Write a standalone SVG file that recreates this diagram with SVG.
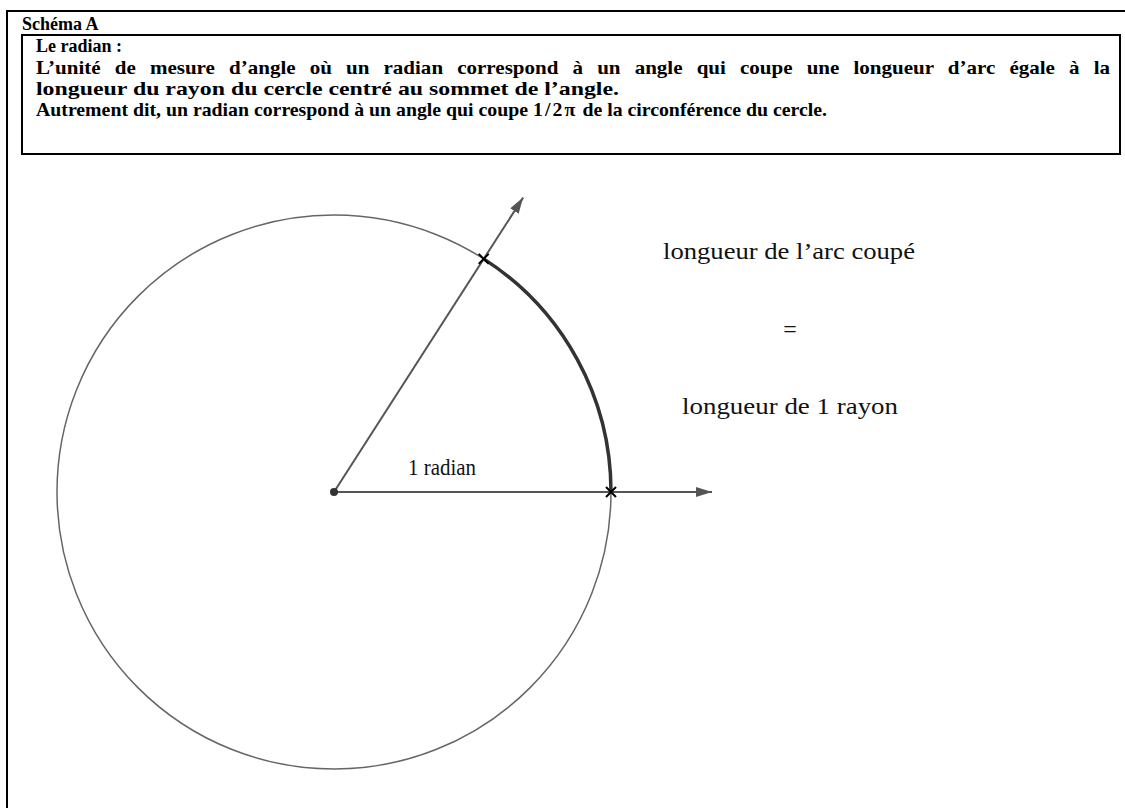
<svg xmlns="http://www.w3.org/2000/svg" width="1125" height="808" viewBox="0 0 1125 808">
<style>
.hd{font-family:"Liberation Serif","Times New Roman",serif;font-weight:bold;font-size:19px;fill:#000}
.lb{font-family:"Liberation Serif","Times New Roman",serif;font-size:24px;fill:#111}
.frame{fill:none;stroke:#000;stroke-width:2}
.ray{stroke:#555;stroke-width:2;fill:none}
.cross{stroke:#000;stroke-width:2}
</style>
<defs>
<marker id="ah" viewBox="0 0 16 10" refX="16" refY="5" markerWidth="16" markerHeight="10" markerUnits="userSpaceOnUse" orient="auto">
<path d="M0,0 L16,5 L0,10 z" fill="#555"/>
</marker>
</defs>
<rect width="1125" height="808" fill="#fff"/>
<g id="frame">
<path class="frame" d="M7,808 L7,11 L1125,11"/>
<text class="hd" x="22" y="30" style="font-size:18px">Schéma A</text>
</g>
<g id="definition">
<rect class="frame" x="22" y="35" width="1098" height="119"/>
<text class="hd" x="36" y="52" style="font-size:18px">Le radian :</text>
<text class="hd" x="36" y="74" word-spacing="8" textLength="1074" lengthAdjust="spacingAndGlyphs">L’unité de mesure d’angle où un radian correspond à un angle qui coupe une longueur d’arc égale à la</text>
<text class="hd" x="36" y="95" textLength="583" lengthAdjust="spacingAndGlyphs">longueur du rayon du cercle centré au sommet de l’angle.</text>
<text class="hd" x="36" y="116" textLength="791" lengthAdjust="spacingAndGlyphs">Autrement dit, un radian correspond à un angle qui coupe <tspan letter-spacing="2">1/2π</tspan> de la circonférence du cercle.</text>
</g>
<g id="circle">
<circle cx="334" cy="492" r="277" fill="none" stroke="#666" stroke-width="1.5"/>
</g>
<g id="arc">
<path d="M611,492 A277,277 0 0 0 483.7,258.9" fill="none" stroke="#333" stroke-width="3.5"/>
</g>
<g id="connectors">
<line class="ray" x1="334" y1="492" x2="712" y2="492" marker-end="url(#ah)"/>
<line class="ray" x1="334" y1="492" x2="523.1" y2="197.6" marker-end="url(#ah)"/>
</g>
<g id="center">
<circle cx="334" cy="492" r="4" fill="#333"/>
</g>
<g id="marks">
<path class="cross" d="M478.7,253.9 L488.7,263.9 M478.7,263.9 L488.7,253.9"/>
<path class="cross" d="M606,487 L616,497 M606,497 L616,487"/>
</g>
<g id="labels">
<text class="lb" x="408" y="475" textLength="68" lengthAdjust="spacingAndGlyphs">1 radian</text>
<text class="lb" x="663" y="259" textLength="252" lengthAdjust="spacingAndGlyphs">longueur de l’arc coupé</text>
<text class="lb" x="790" y="337" text-anchor="middle">=</text>
<text class="lb" x="682" y="414" textLength="216" lengthAdjust="spacingAndGlyphs">longueur de 1 rayon</text>
</g>
</svg>
